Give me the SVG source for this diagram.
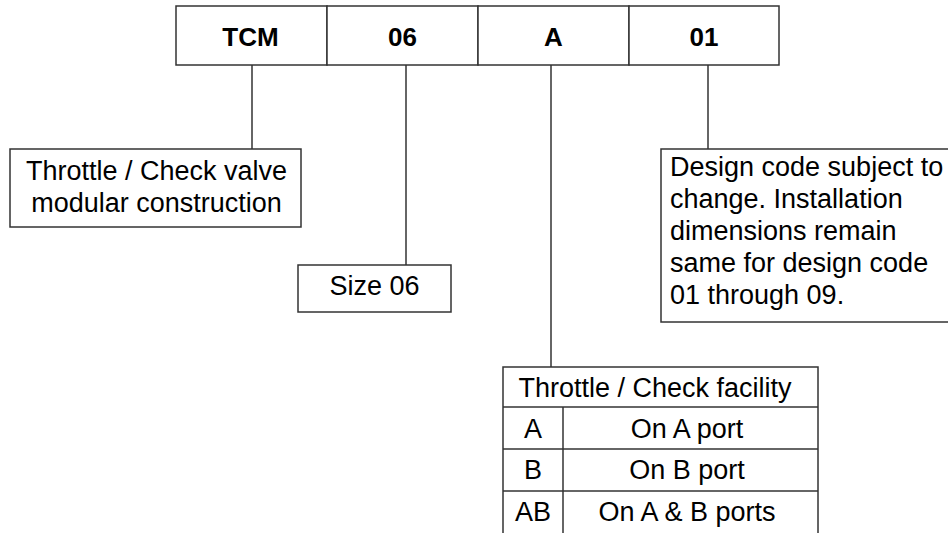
<svg xmlns="http://www.w3.org/2000/svg" width="948" height="533" viewBox="0 0 948 533">
<style>
.b{fill:#fff;stroke:#333;stroke-width:1.5}
.l{stroke:#333;stroke-width:1.5;fill:none}
text{font-family:"Liberation Sans",Arial,sans-serif;font-size:27px;fill:#000}
.h{font-weight:bold;text-anchor:middle;font-size:26px}
.c{text-anchor:middle}
</style>
<rect width="948" height="533" fill="#fff"/>
<g id="connectors">
<line class="l" x1="252" y1="65" x2="252" y2="149"/>
<line class="l" x1="406" y1="65" x2="406" y2="265"/>
<line class="l" x1="551" y1="65" x2="551" y2="367"/>
<line class="l" x1="708" y1="65" x2="708" y2="149"/>
</g>
<g id="code-tcm"><rect class="b" x="176" y="6" width="151" height="59"/><text class="h" x="250.5" y="46">TCM</text></g>
<g id="code-06"><rect class="b" x="327" y="6" width="151" height="59"/><text class="h" x="402.5" y="46">06</text></g>
<g id="code-a"><rect class="b" x="478" y="6" width="151" height="59"/><text class="h" x="553.5" y="46">A</text></g>
<g id="code-01"><rect class="b" x="629" y="6" width="150" height="59"/><text class="h" x="704" y="46">01</text></g>
<g id="desc-tcm"><rect class="b" x="10" y="149" width="291" height="78"/>
<text class="c" x="156.5" y="180">Throttle / Check valve</text>
<text class="c" x="156.5" y="212">modular construction</text></g>
<g id="desc-size"><rect class="b" x="298" y="265" width="153" height="47"/><text class="c" x="374.5" y="295">Size 06</text></g>
<g id="desc-design"><rect class="b" x="661" y="149" width="300" height="173"/>
<text x="670" y="176">Design code subject to</text>
<text x="670" y="208">change. Installation</text>
<text x="670" y="240">dimensions remain</text>
<text x="670" y="272">same for design code</text>
<text x="670" y="304">01 through 09.</text></g>
<g id="facility-table">
<rect class="b" x="503" y="367" width="315" height="180"/>
<line class="l" x1="503" y1="407" x2="818" y2="407"/>
<line class="l" x1="503" y1="449" x2="818" y2="449"/>
<line class="l" x1="503" y1="491" x2="818" y2="491"/>
<line class="l" x1="563" y1="407" x2="563" y2="533"/>
<text class="c" x="655" y="397">Throttle / Check facility</text>
<text class="c" x="533" y="438">A</text><text class="c" x="687" y="438">On A port</text>
<text class="c" x="533" y="479">B</text><text class="c" x="687" y="479">On B port</text>
<text class="c" x="533" y="521">AB</text><text class="c" x="687" y="521">On A &amp; B ports</text>
</g>
</svg>
